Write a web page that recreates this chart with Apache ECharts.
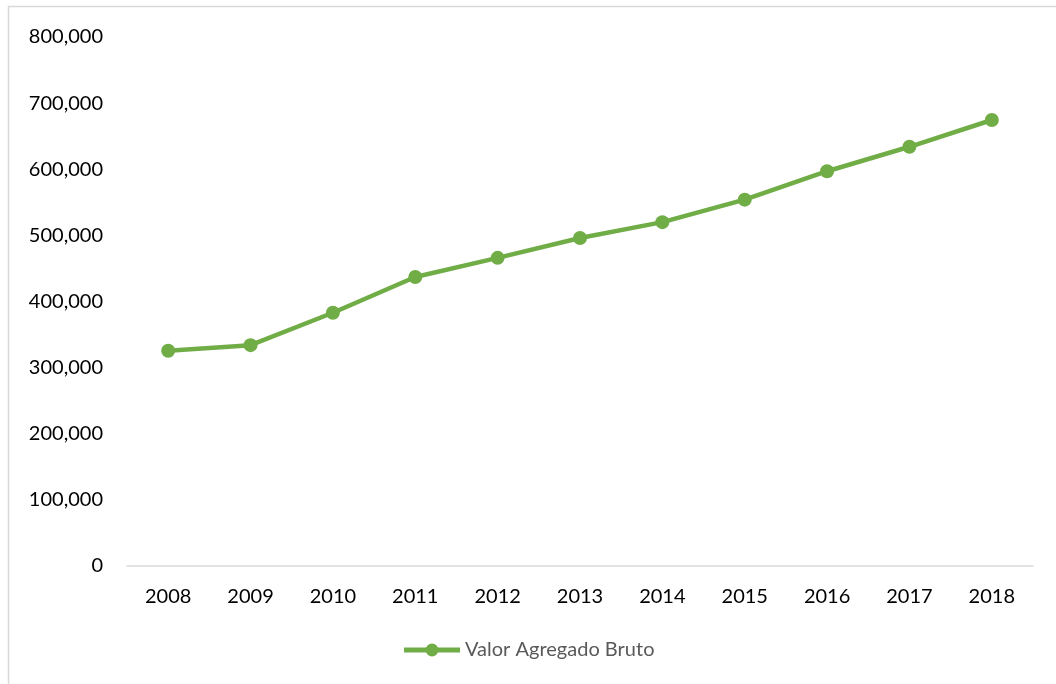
<!DOCTYPE html>
<html lang="pt">
<head>
    <meta charset="UTF-8">
    <title>Valor Agregado Bruto</title>
    <style type="text/css">
        *{
            margin: 0;
            padding: 0;
        }
        #main{
            width: 1056px;
            height: 684px;
            position: absolute;
            background: #ffffff;
        }
    </style>
</head>
<body>
    <div id="main"></div>
    <script src="https://cdn.jsdelivr.net/npm/echarts@6/dist/echarts.min.js"></script>
    <script type="text/javascript">
        var years = ['2008', '2009', '2010', '2011', '2012', '2013', '2014', '2015', '2016', '2017', '2018'];
        var vab = [325600, 334000, 383000, 437000, 466000, 496000, 520000, 554000, 597000, 634000, 674500];
        var seriesName = 'Valor Agregado Bruto';

        var myChart = echarts.init(document.getElementById('main'));
        var font = 'Lato, "Open Sans", sans-serif';

        var option = {
            backgroundColor: '#ffffff',
            animation: false,
            graphic: [{
                type: 'rect',
                shape: {x: 8.5, y: 6.5, width: 1100, height: 720},
                style: {fill: 'none', stroke: '#d9d9d9', lineWidth: 1.5}
            }],
            grid: {
                left: 127,
                right: 23,
                top: 37,
                bottom: 118
            },
            legend: {
                bottom: 19,
                left: 'center',
                itemWidth: 56,
                itemHeight: 16,
                itemGap: 0,
                lineStyle: {width: 5},
                textStyle: {color: '#595959', fontSize: 20, fontFamily: font},
                data: [seriesName]
            },
            xAxis: {
                type: 'category',
                data: years,
                axisLine: {lineStyle: {color: '#d9d9d9', width: 1.5}},
                axisTick: {show: false},
                axisLabel: {color: '#000000', fontSize: 20, fontFamily: font, margin: 21}
            },
            yAxis: {
                type: 'value',
                min: 0,
                max: 800000,
                interval: 100000,
                axisLine: {show: false},
                axisTick: {show: false},
                splitLine: {show: false},
                axisLabel: {
                    color: '#000000',
                    fontSize: 20,
                    fontFamily: font,
                    margin: 24,
                    formatter: function (v) {
                        return v.toString().replace(/\B(?=(\d{3})+(?!\d))/g, ',');
                    }
                }
            },
            series: [{
                name: seriesName,
                type: 'line',
                data: vab,
                symbol: 'circle',
                symbolSize: 14,
                itemStyle: {color: '#70ad47'},
                lineStyle: {color: '#70ad47', width: 4.5}
            }]
        };

        myChart.setOption(option);
    </script>
</body>
</html>
